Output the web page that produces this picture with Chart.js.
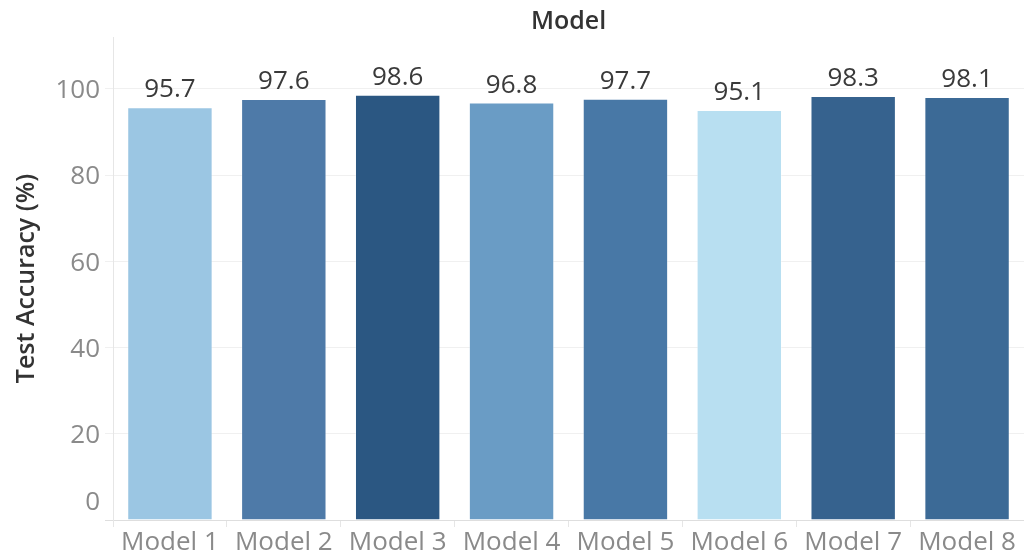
<!DOCTYPE html>
<html>
<head>
<meta charset="utf-8">
<script src="https://cdn.jsdelivr.net/npm/chart.js@4.4.1/dist/chart.umd.min.js"></script>
<style>
  html, body { margin: 0; padding: 0; background: #fff; }
  #wrap { width: 1024px; height: 560px; }
</style>
</head>
<body>
<div id="wrap"><canvas id="accChart"></canvas></div>
<script>
const Models = ["Model 1", "Model 2", "Model 3", "Model 4", "Model 5", "Model 6", "Model 7", "Model 8"];
const Accuracy = [95.7, 97.6, 98.6, 96.8, 97.7, 95.1, 98.3, 98.1];
const BarColors = ["#9bc6e3", "#4e7aa8", "#2b5782", "#6a9cc5", "#4878a6", "#b8dff1", "#36628e", "#3c6a96"];
const YTicks = [0, 20, 40, 60, 80, 100];

const FONT = "'Open Sans', 'Noto Sans', sans-serif";
const TICK_GRAY = "#8a8a8a";

// value labels on top of bars, header over the plot area, shifted "0" label like tableau
const extraText = {
  id: "extraText",
  afterDatasetsDraw(chart) {
    const ctx = chart.ctx;
    const area = chart.chartArea;
    const meta = chart.getDatasetMeta(0);
    ctx.save();
    ctx.font = "26px " + FONT;
    ctx.fillStyle = "#3a3a3a";
    ctx.textAlign = "center";
    ctx.textBaseline = "alphabetic";
    meta.data.forEach((bar, i) => {
      ctx.fillText(Accuracy[i].toFixed(1), bar.x, bar.y - 10);
    });

    ctx.font = "600 25px " + FONT;
    ctx.fillStyle = "#333333";
    ctx.textBaseline = "middle";
    ctx.fillText("Model", (area.left + area.right) / 2, 22);

    const y = chart.scales.y;
    ctx.font = "26px " + FONT;
    ctx.fillStyle = TICK_GRAY;
    ctx.textAlign = "right";
    ctx.fillText("0", 100, y.getPixelForValue(0) - 17);
    ctx.restore();
  }
};

const ctx = document.getElementById("accChart").getContext("2d");
new Chart(ctx, {
  type: "bar",
  data: {
    labels: Models,
    datasets: [{
      data: Accuracy,
      backgroundColor: BarColors,
      borderColor: "rgba(255,255,255,0.35)",
      borderWidth: 1,
      barPercentage: 0.75,
      categoryPercentage: 1.0,
    }],
  },
  options: {
    responsive: true,
    maintainAspectRatio: false,
    animation: false,
    layout: { padding: { left: 0, right: 0, top: 37, bottom: 0 } },
    plugins: {
      legend: { display: false },
      tooltip: { enabled: false },
      title: { display: false },
    },
    scales: {
      x: {
        grid: {
          offset: true,
          drawOnChartArea: false,
          drawTicks: true,
          tickLength: 7,
          color: "#e6e6e6",
        },
        border: { display: false },
        ticks: {
          color: TICK_GRAY,
          font: { family: FONT, size: 26 },
          padding: 0,
          maxRotation: 0,
          autoSkip: false,
        },
        afterFit: (scale) => { scale.height = 40; },
      },
      y: {
        min: 0,
        max: 112,
        grid: {
          color: (c) => (c.tick && c.tick.value === 0 ? "#dedede" : "#f0f0f0"),
          tickLength: 8,
        },
        border: { display: true, color: "#e6e6e6" },
        ticks: {
          stepSize: 20,
          padding: 5,
          labelOffset: 2,
          color: (c) => (c.tick && c.tick.value === 0 ? "rgba(0,0,0,0)" : TICK_GRAY),
          font: { family: FONT, size: 26 },
        },
        afterBuildTicks: (scale) => {
          scale.ticks = YTicks.map((v) => ({ value: v }));
        },
        title: {
          display: true,
          text: "Test Accuracy (%)",
          color: "#333333",
          font: { family: FONT, size: 25, weight: "600" },
          padding: { top: 12, bottom: 0 },
        },
        afterFit: (scale) => { scale.width = 113; },
      },
    },
  },
  plugins: [extraText],
});
</script>
</body>
</html>
